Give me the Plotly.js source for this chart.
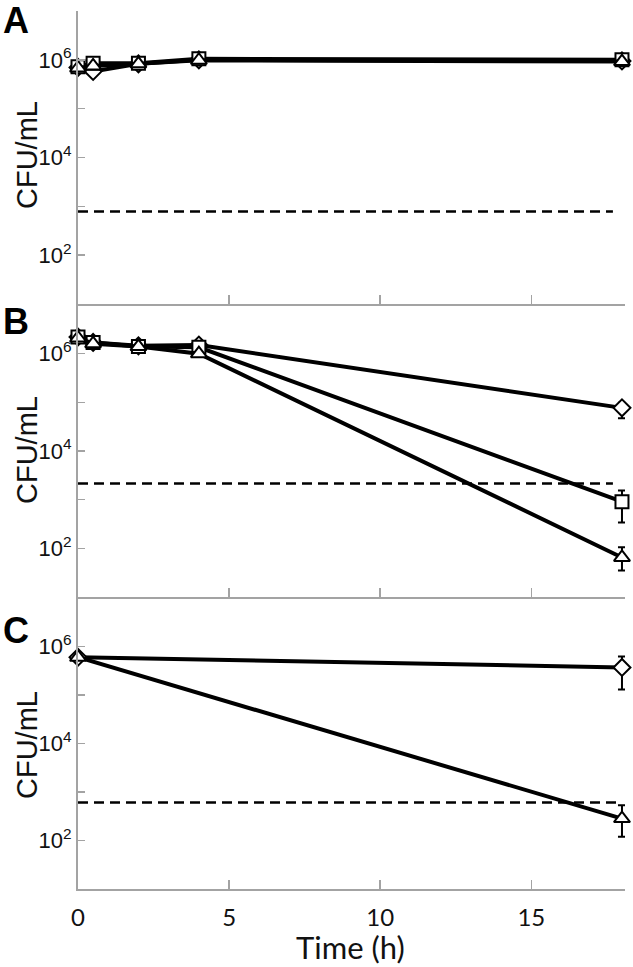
<!DOCTYPE html>
<html>
<head>
<meta charset="utf-8">
<script src="https://cdn.plot.ly/plotly-3.0.1.min.js"></script>
<style>html,body{margin:0;padding:0;background:#fff;}#chart{width:633px;height:967px;}</style>
</head>
<body>
<div id="chart"></div>
<script>
// ---- data ----
const timeAB = [0, 0.5, 2, 4, 18];
const timeC = [0, 18];

const aDiamond = [7.0e5, 5.8e5, 8.3e5, 1.0e6, 9.5e5];
const aSquare = [7.2e5, 8.5e5, 8.5e5, 1.05e6, 1.0e6];
const aTriangle = [6.8e5, 7.5e5, 8.3e5, 9.8e5, 9.2e5];

const bDiamond = [2.2e6, 1.7e6, 1.45e6, 1.5e6, 7.7e4];
const bDiamondErrPlus = [0, 0, 0, 0, 2.1e4];
const bDiamondErrMinus = [0, 0, 0, 0, 3.0e4];
const bSquare = [2.2e6, 1.7e6, 1.4e6, 1.35e6, 910];
const bSquareErrPlus = [0, 0, 0, 0, 640];
const bSquareErrMinus = [4e5, 0, 0, 0, 570];
const bTriangle = [2.1e6, 1.6e6, 1.4e6, 1.0e6, 65];
const bTriangleErrPlus = [0, 0, 0, 0, 40];
const bTriangleErrMinus = [0, 0, 0, 0, 30];

const cDiamond = [6.0e5, 3.7e5];
const cDiamondErrPlus = [0, 2.5e5];
const cDiamondErrMinus = [0, 2.4e5];
const cTriangle = [6.0e5, 283];
const cTriangleErrPlus = [0, 250];
const cTriangleErrMinus = [0, 163];

const limitX = [[0, 17.7], [0, 17.7], [0, 18]];
const detectionLimit = [780, 2150, 610];

const yTickVals = [10, 100, 1e3, 1e4, 1e5, 1e6, 1e7];
const yTickText = ['', '10<sup>2</sup>', '', '10<sup>4</sup>', '', '10<sup>6</sup>', ''];
const xTickVals = [0, 5, 10, 15];
const xTickText = ['0', '5', '10', '15'];
const panelLabels = ['A', 'B', 'C'];
const yTitle = 'CFU/mL';
const xTitle = 'Time (h)';

// ---- helpers ----
const black = '#000';
const gray = '#a3a3a3';
const sansA = '"Liberation Sans", Arial, sans-serif';
const sansB = 'Lato, "Open Sans", sans-serif';
function series(x, y, sym, ax, ep, em) {
  const t = {
    x: x, y: y, xaxis: ax[0], yaxis: ax[1], type: 'scatter', mode: 'lines+markers',
    line: {color: black, width: 4},
    marker: {symbol: sym, size: sym === 'triangle-up' ? 14 : 13, color: '#fff', line: {color: black, width: 2}},
    cliponaxis: false, showlegend: false, hoverinfo: 'skip'
  };
  if (ep) {
    t.error_y = {type: 'data', symmetric: false, array: ep, arrayminus: em, color: black, thickness: 2, width: 4};
  }
  return t;
}
function limit(i, ax) {
  return {
    x: limitX[i], y: [detectionLimit[i], detectionLimit[i]], xaxis: ax[0], yaxis: ax[1],
    type: 'scatter', mode: 'lines', line: {color: black, width: 2.5, dash: '10px,6px'},
    showlegend: false, hoverinfo: 'skip'
  };
}
const axA = ['x', 'y'], axB = ['x2', 'y2'], axC = ['x3', 'y3'];

const traces = [
  limit(0, axA),
  series(timeAB, aDiamond, 'diamond', axA),
  series(timeAB, aSquare, 'square', axA),
  series(timeAB, aTriangle, 'triangle-up', axA),
  limit(1, axB),
  series(timeAB, bDiamond, 'diamond', axB, bDiamondErrPlus, bDiamondErrMinus),
  series(timeAB, bSquare, 'square', axB, bSquareErrPlus, bSquareErrMinus),
  series(timeAB, bTriangle, 'triangle-up', axB, bTriangleErrPlus, bTriangleErrMinus),
  limit(2, axC),
  series(timeC, cDiamond, 'diamond', axC, cDiamondErrPlus, cDiamondErrMinus),
  series(timeC, cTriangle, 'triangle-up', axC, cTriangleErrPlus, cTriangleErrMinus)
];

function xAxis(anchor, labels) {
  return {
    anchor: anchor, domain: [0, 1], range: [0, 18.1], showgrid: false, zeroline: false,
    showline: true, linecolor: gray, linewidth: 2,
    ticks: 'inside', ticklen: 9, tickwidth: 1.5, tickcolor: gray,
    tickvals: xTickVals, ticktext: xTickText, showticklabels: labels,
    ticklabelstandoff: 6,
    tickfont: {family: sansB, size: 24, color: '#111'}
  };
}
function yAxis(anchor, dom) {
  return {
    anchor: anchor, domain: dom, type: 'log', range: [1, 7], showgrid: false, zeroline: false,
    showline: true, linecolor: gray, linewidth: 2,
    ticks: 'inside', ticklen: 7, tickwidth: 1.5, tickcolor: gray,
    tickvals: yTickVals, ticktext: yTickText,
    tickfont: {family: sansA, size: 22, color: '#111'}
  };
}

const H = 878, W = 547;
const layout = {
  width: 633, height: 967,
  margin: {l: 78, r: 8, t: 11, b: 78},
  paper_bgcolor: '#fff', plot_bgcolor: 'rgba(0,0,0,0)',
  xaxis: xAxis('y', false),
  yaxis: yAxis('x', [585 / H, 1]),
  xaxis2: xAxis('y2', false),
  yaxis2: yAxis('x2', [292 / H, 584 / H]),
  xaxis3: xAxis('y3', true),
  yaxis3: yAxis('x3', [0, 291 / H]),
  annotations: [{
    text: xTitle, xref: 'paper', yref: 'paper',
    x: (350 - 78) / W, y: 1 - (947 - 11) / H, xanchor: 'center', yanchor: 'middle',
    showarrow: false, font: {family: sansB, size: 31, color: '#111'}
  }]
};
const panelTop = [21, 322, 630];
const titleCenter = [155, 450, 745];
for (let i = 0; i < 3; i++) {
  layout.annotations.push({
    text: '<b>' + panelLabels[i] + '</b>', xref: 'paper', yref: 'paper',
    x: (16 - 78) / W, y: 1 - (panelTop[i] - 11) / H, xanchor: 'center', yanchor: 'middle',
    showarrow: false, font: {family: sansA, size: 36, color: '#000'}
  });
  layout.annotations.push({
    text: yTitle, xref: 'paper', yref: 'paper', textangle: -90,
    x: (27 - 78) / W, y: 1 - (titleCenter[i] - 11) / H, xanchor: 'center', yanchor: 'middle',
    showarrow: false, font: {family: sansA, size: 29, color: '#111'}
  });
}

Plotly.newPlot('chart', traces, layout, {staticPlot: true, displayModeBar: false});
</script>
</body>
</html>
